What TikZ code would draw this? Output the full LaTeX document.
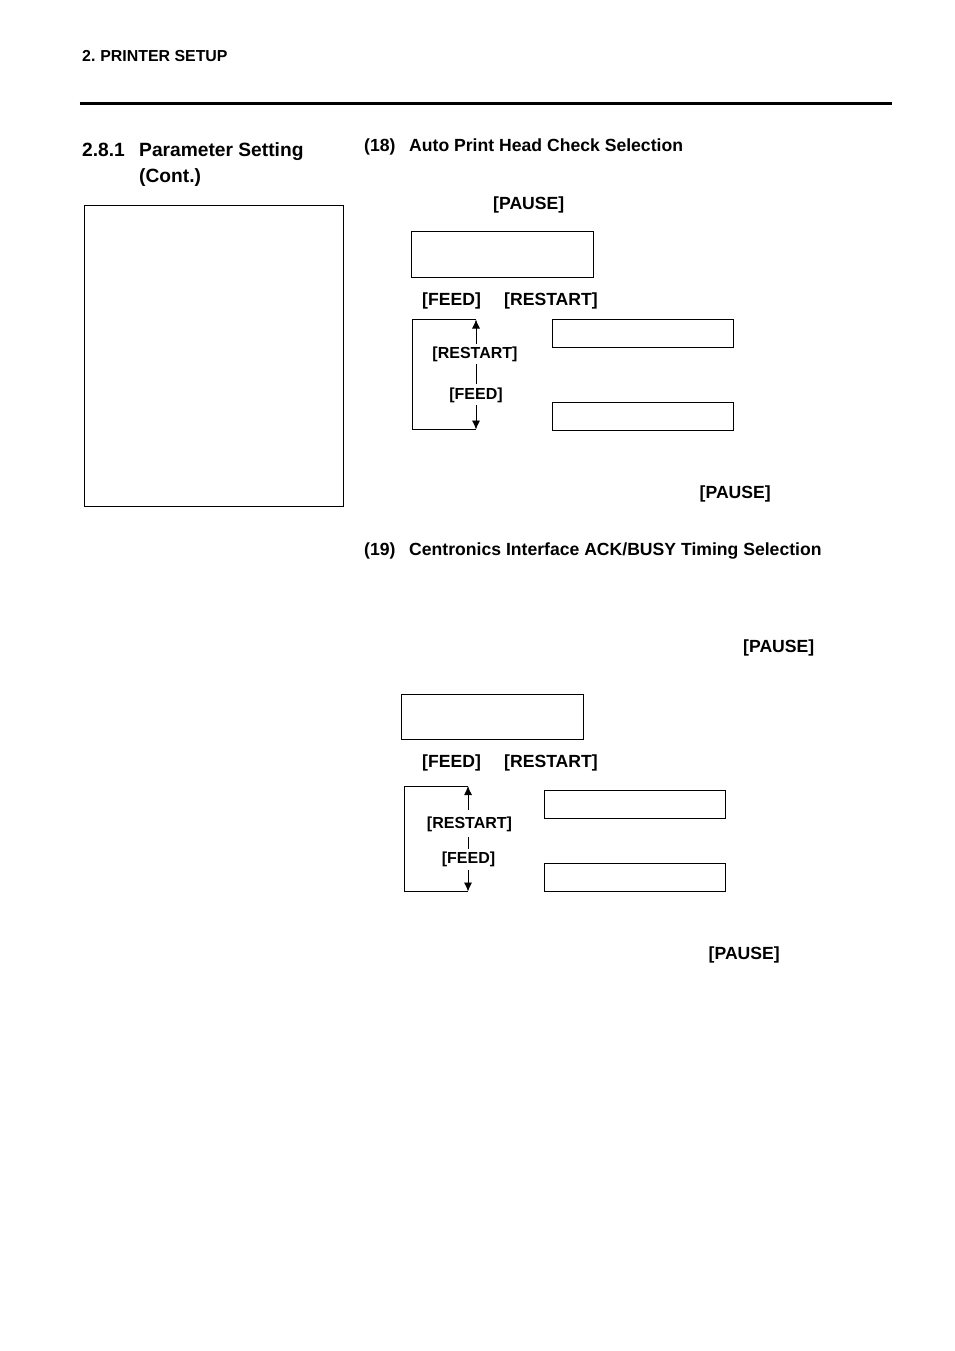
\documentclass[tikz,border=0pt]{standalone}
\usepackage{fontspec}
\setmainfont{Liberation Sans}
\usetikzlibrary{arrows.meta}
\tikzset{
	txt/.style={inner sep=0pt,anchor=base west,font=\fontsize{17.6}{20}\selectfont\bfseries},
	headtxt/.style={txt,font=\fontsize{19.2}{24}\selectfont\bfseries},
	keylab/.style={inner sep=0pt,anchor=base,font=\fontsize{16}{18}\selectfont\bfseries},
	lcd/.style={draw,line width=1.1pt,inner sep=0pt,anchor=north west,minimum width=181.5pt,minimum height=27.5pt},
	lcdbig/.style={lcd,minimum height=46pt},
	tip/.style={-{Latex[length=9pt,width=8pt]},line width=.8pt},
	bracket/.style={line width=.9pt}
}
\begin{document}
\begin{tikzpicture}[x=1pt,y=-1pt]
\useasboundingbox (0,0) rectangle (954,1351);
% page head
\node[txt,font=\fontsize{15.9}{18}\selectfont\bfseries] (head) at (82,61.5) {2.\kern-1pt{} PRINTER SETUP};
\draw[line width=3pt] (79.5,103.5) -- (891.5,103.5);
\node[headtxt] (secnum) at (82,156.5) {2.8.1};
\node[headtxt] (sectitle) at (139,156.5) {Parameter Setting};
\node[headtxt] (seccont) at (139,182.5) {(Cont.)};
\node[draw,line width=1pt,inner sep=0pt,anchor=north west,minimum width=259pt,minimum height=301.5pt] (note) at (84,204.5) {};
% item 18
\node[txt] (numA) at (364,151.5) {(18)};
\node[txt] (titleA) at (409,151.5) {Auto Print Head Check Selection};
\node[txt] (pauseA) at (493,209) {[PAUSE]};
\node[lcdbig] (dispA) at (411,231) {};
\draw[line width=1pt] (dispA.north east) -- (dispA.south east);
\node[txt] (feedA) at (422,305) {[FEED]};
\node[txt] (restartA) at (504,305) {[RESTART]};
\node[lcd,minimum height=28pt] (onA) at (551.5,319) {};
\node[lcd] (offA) at (551.5,402) {};
\node[keylab] (keyrA) at (475,358) {[RESTART]};
\node[keylab] (keyfA) at (476,399) {[FEED]};
\coordinate (topA) at (476,319.5);
\coordinate (botA) at (476,429.5);
\draw[tip] (476,343.5) -- (topA);
\draw[bracket] (476,364) -- (476,384);
\draw[tip] (476,405) -- (botA);
\draw[bracket] (topA) -- (412.5,319.5) -- (412.5,429.5) -- (botA);
\node[txt] (pauseB) at (699.5,498) {[PAUSE]};
% item 19
\node[txt] (numC) at (364,555) {(19)};
\node[txt] (titleC) at (409,555) {Centronics Interface ACK/BUSY Timing Selection};
\node[txt] (pauseC) at (743,652) {[PAUSE]};
\node[lcdbig,minimum height=45pt] (dispC) at (401,694) {};
\node[txt] (feedC) at (422,767) {[FEED]};
\node[txt] (restartC) at (504,767) {[RESTART]};
\node[lcd,line width=1.3pt,minimum width=181pt] (onC) at (543.5,790) {};
\node[lcd,line width=1.3pt,minimum width=181pt] (offC) at (543.5,863) {};
\node[keylab] (keyrC) at (469.5,828) {[RESTART]};
\node[keylab] (keyfC) at (468.5,863) {[FEED]};
\coordinate (topC) at (468,786);
\coordinate (botC) at (468,891.5);
\draw[tip] (468,810) -- (topC);
\draw[bracket] (468,837) -- (468,849);
\draw[tip] (468,870) -- (botC);
\draw[bracket] (topC) -- (404.5,786) -- (404.5,891.5) -- (botC);
\node[txt] (pauseD) at (708.5,959) {[PAUSE]};
\end{tikzpicture}
\end{document}
